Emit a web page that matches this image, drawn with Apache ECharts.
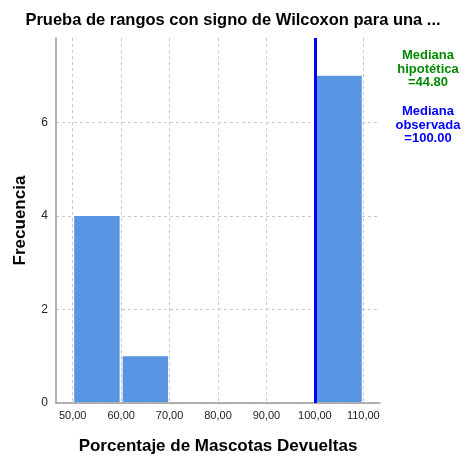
<!DOCTYPE html>
<html>
<head>
<meta charset="utf-8">
<script src="https://cdn.jsdelivr.net/npm/echarts@6/dist/echarts.min.js"></script>
<style>html,body{margin:0;padding:0;background:#fff}#c{width:466px;height:456px}</style>
</head>
<body>
<div id="c"></div>
<script>
var binStarts = [50, 60, 100];
var binEnds = [60, 70, 110];
var frequencies = [4, 1, 7];
var xTicks = [50, 60, 70, 80, 90, 100, 110];
var yTicks = [0, 2, 4, 6];
var hypotheticalMedian = 44.80;
var observedMedian = 100.00;

var data = binStarts.map(function (s, i) { return [s, binEnds[i], frequencies[i]]; });

var chart = echarts.init(document.getElementById('c'));
chart.setOption({
  animation: false,
  backgroundColor: '#fff',
  title: {
    text: 'Prueba de rangos con signo de Wilcoxon para una ...',
    left: 'center', top: 7,
    textStyle: { fontFamily: 'Liberation Sans', fontSize: 16.5, fontWeight: 'bold', color: '#000' }
  },
  grid: { left: 56, right: 86, top: 38, bottom: 53, outerBoundsMode: 'none', containLabel: false },
  xAxis: {
    type: 'value', min: 46.55, max: 113.45,
    name: 'Porcentaje de Mascotas Devueltas', nameLocation: 'middle', nameGap: 35,
    nameTextStyle: { fontFamily: 'Liberation Sans', fontSize: 17, fontWeight: 'bold', color: '#000' },
    axisLine: { lineStyle: { color: '#999', width: 1.5 } },
    axisTick: { show: false, customValues: xTicks },
    axisLabel: {
      fontFamily: 'Liberation Sans', fontSize: 11, color: '#222', margin: 7,
      customValues: xTicks,
      formatter: function (v) { return v.toFixed(2).replace('.', ','); }
    },
    splitLine: { show: true, lineStyle: { color: '#c8c8c8', type: [3, 3] } }
  },
  yAxis: {
    type: 'value', min: 0, max: 7.81,
    name: 'Frecuencia', nameLocation: 'middle', nameGap: 27,
    nameTextStyle: { fontFamily: 'Liberation Sans', fontSize: 17, fontWeight: 'bold', color: '#000' },
    axisLine: { show: true, lineStyle: { color: '#999', width: 1.5 } },
    axisTick: { show: false, customValues: yTicks },
    axisLabel: {
      fontFamily: 'Liberation Sans', fontSize: 12, color: '#222', margin: 8,
      customValues: yTicks
    },
    splitLine: { show: true, lineStyle: { color: '#c8c8c8', type: [3, 3] } }
  },
  series: [{
    type: 'custom',
    data: data,
    encode: { x: [0, 1], y: 2 },
    renderItem: function (params, api) {
      var p0 = api.coord([api.value(0), api.value(2)]);
      var p1 = api.coord([api.value(1), 0]);
      return {
        type: 'rect',
        shape: { x: p0[0] + 1.5, y: p0[1], width: p1[0] - p0[0] - 3, height: p1[1] - p0[1] - 1 },
        style: { fill: '#5895e3', stroke: null }
      };
    },
    z: 2,
    markLine: {
      silent: true, symbol: 'none', label: { show: false },
      lineStyle: { color: '#0000ff', width: 3, type: 'solid' },
      data: [[{ coord: [observedMedian, 0] }, { coord: [observedMedian, 7.81] }]],
      z: 5
    }
  }],
  graphic: [
    {
      type: 'text', x: 428, y: 49,
      style: {
        text: 'Mediana\nhipotética\n=' + hypotheticalMedian.toFixed(2),
        fill: '#008a00', font: 'bold 13px "Liberation Sans"', align: 'center', lineHeight: 13.5
      }
    },
    {
      type: 'text', x: 428, y: 105,
      style: {
        text: 'Mediana\nobservada\n=' + observedMedian.toFixed(2),
        fill: '#0000ff', font: 'bold 13px "Liberation Sans"', align: 'center', lineHeight: 13.5
      }
    }
  ]
});
</script>
</body>
</html>
